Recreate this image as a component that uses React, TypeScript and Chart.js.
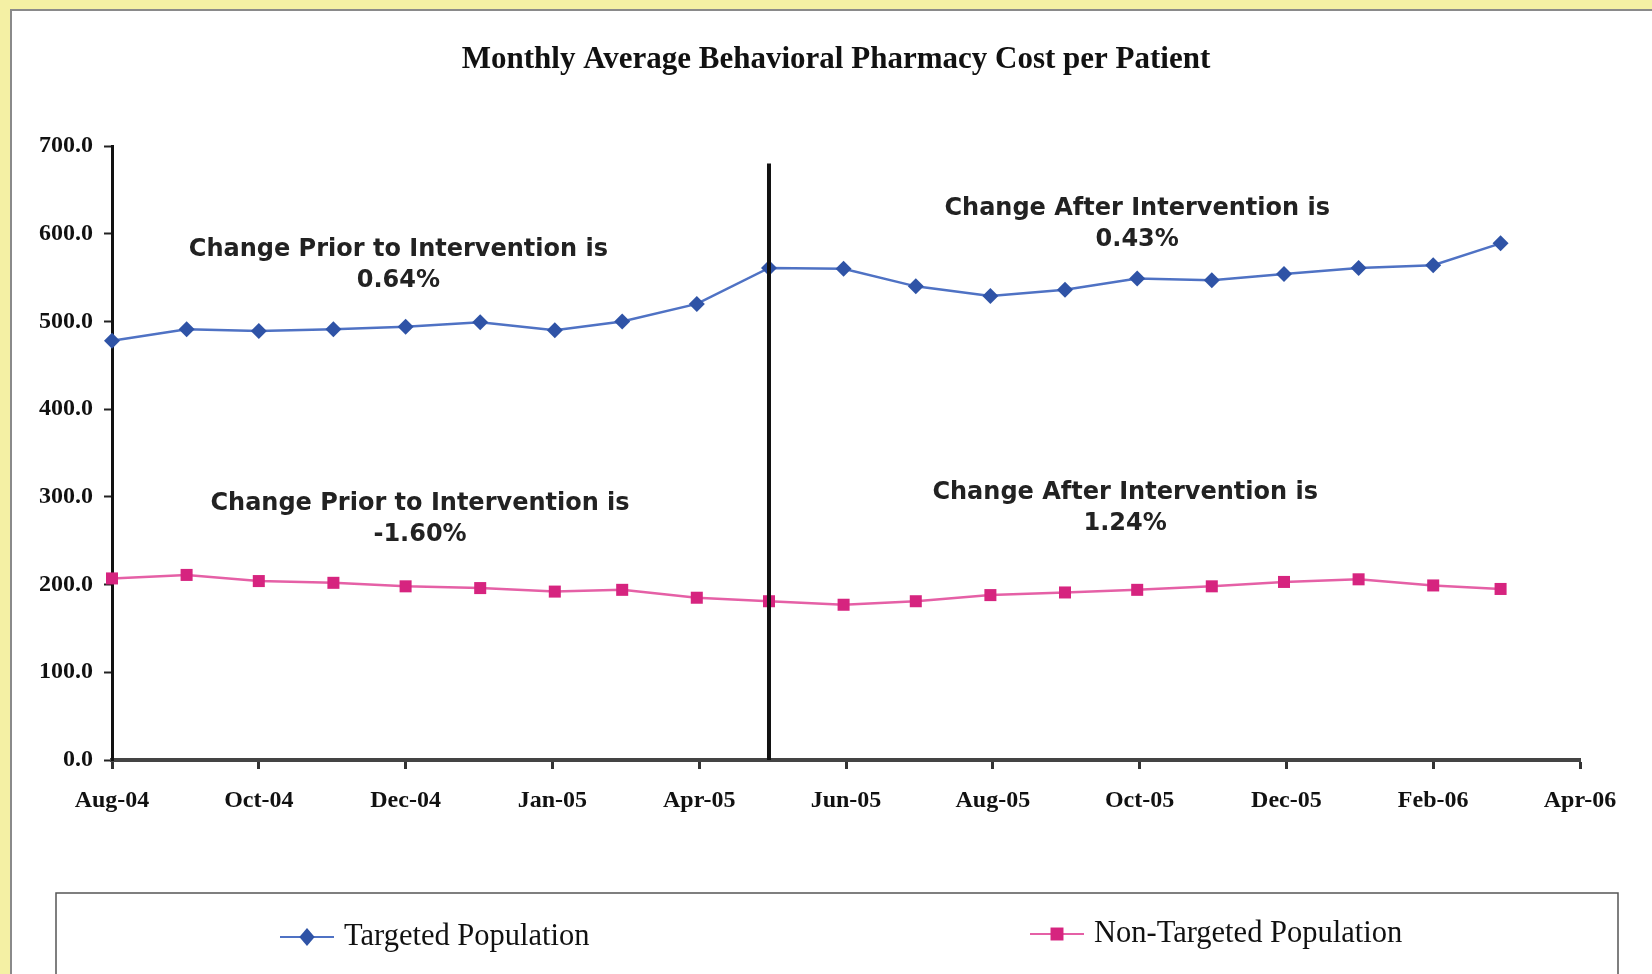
import React, { useEffect, useRef } from "react";
import { Chart, registerables } from "chart.js";

Chart.register(...registerables);

// ---- data ----
const axisStart = "2004-08-01";
const tickStepDays = 61;
const tickLabels = ["Aug-04", "Oct-04", "Dec-04", "Jan-05", "Apr-05", "Jun-05", "Aug-05", "Oct-05", "Dec-05", "Feb-06", "Apr-06"];
const yTicks = [0, 100, 200, 300, 400, 500, 600, 700];

const months = [
  "2004-08-01", "2004-09-01", "2004-10-01", "2004-11-01", "2004-12-01",
  "2005-01-01", "2005-02-01", "2005-03-01", "2005-04-01", "2005-05-01",
  "2005-06-01", "2005-07-01", "2005-08-01", "2005-09-01", "2005-10-01",
  "2005-11-01", "2005-12-01", "2006-01-01", "2006-02-01", "2006-03-01",
];
const targeted = [478, 491, 489, 491, 494, 499, 490, 500, 520, 561, 560, 540, 529, 536, 549, 547, 554, 561, 564, 589];
const nonTargeted = [207, 211, 204, 202, 198, 196, 192, 194, 185, 181, 177, 181, 188, 191, 194, 198, 203, 206, 199, 195];

const seriesNames = ["Targeted Population", "Non-Targeted Population"];
const titleText = "Monthly Average Behavioral Pharmacy Cost per Patient";

const interventionDate = "2005-05-01";
const interventionTop = 680;

const noteLines = [
  ["Change Prior to Intervention is", "0.64%"],
  ["Change After Intervention is", "0.43%"],
  ["Change Prior to Intervention is", "-1.60%"],
  ["Change After Intervention is", "1.24%"],
];
const noteDays = [119, 426, 128, 421];
const noteValues = [582, 628, 292, 305];

// ---- styles ----
const BLUE_LINE = "#4f72c4";
const BLUE_MARK = "#2f53a6";
const PINK_LINE = "#e560a6";
const PINK_MARK = "#d6247f";
const SERIF = "'Liberation Serif', 'Times New Roman', serif";
const SANS = "'DejaVu Sans', Verdana, sans-serif";

const dayOffset = (d: string) => (Date.parse(d) - Date.parse(axisStart)) / 86400000;

const drawMarker = (ctx: CanvasRenderingContext2D, kind: string, x: number, y: number, r: number, color: string) => {
  ctx.save();
  ctx.fillStyle = color;
  ctx.beginPath();
  if (kind === "diamond") {
    ctx.moveTo(x, y - r);
    ctx.lineTo(x + r * 0.85, y);
    ctx.lineTo(x, y + r);
    ctx.lineTo(x - r * 0.85, y);
    ctx.closePath();
  } else {
    const h = r * 0.72;
    ctx.rect(x - h, y - h, 2 * h, 2 * h);
  }
  ctx.fill();
  ctx.restore();
};

const decorPlugin = {
  id: "decor",
  beforeDraw(chart: any) {
    const { ctx, width, height } = chart;
    ctx.save();
    ctx.fillStyle = "#f4f0a4";
    ctx.fillRect(0, 0, width, height);
    ctx.fillStyle = "#ffffff";
    ctx.fillRect(11, 10, width - 11, height - 10);
    ctx.strokeStyle = "#8a8a8a";
    ctx.lineWidth = 2;
    ctx.beginPath();
    ctx.moveTo(11, height);
    ctx.lineTo(11, 10);
    ctx.lineTo(width, 10);
    ctx.stroke();
    ctx.restore();
  },
  afterDatasetsDraw(chart: any) {
    const { ctx } = chart;
    const xs = chart.scales.x;
    const ys = chart.scales.y;
    // intervention line
    const xi = xs.getPixelForValue(dayOffset(interventionDate));
    ctx.save();
    ctx.strokeStyle = "#111";
    ctx.lineWidth = 4;
    ctx.beginPath();
    ctx.moveTo(xi, ys.getPixelForValue(interventionTop));
    ctx.lineTo(xi, ys.getPixelForValue(0));
    ctx.stroke();
    ctx.restore();

    // notes
    ctx.save();
    ctx.fillStyle = "#222";
    ctx.font = `bold 24px ${SANS}`;
    ctx.textAlign = "center";
    ctx.textBaseline = "middle";
    noteLines.forEach((lines, i) => {
      const cx = xs.getPixelForValue(noteDays[i]);
      const cy = ys.getPixelForValue(noteValues[i]);
      lines.forEach((t, j) => ctx.fillText(t, cx, cy + j * 31));
    });
    ctx.restore();
  },
  afterDraw(chart: any) {
    const { ctx } = chart;
    ctx.save();
    // title
    ctx.fillStyle = "#111";
    ctx.font = `bold 31px ${SERIF}`;
    ctx.textAlign = "center";
    ctx.textBaseline = "middle";
    ctx.fillText(titleText, 836, 60);

    // legend box
    ctx.strokeStyle = "#555";
    ctx.lineWidth = 1.5;
    ctx.strokeRect(56, 893, 1562, 100);

    const items = [
      { name: seriesNames[0], line: BLUE_LINE, mark: BLUE_MARK, kind: "diamond", x0: 280, y: 937 },
      { name: seriesNames[1], line: PINK_LINE, mark: PINK_MARK, kind: "square", x0: 1030, y: 934 },
    ];
    ctx.font = `30.5px ${SERIF}`;
    ctx.textAlign = "left";
    items.forEach((it) => {
      ctx.strokeStyle = it.line;
      ctx.lineWidth = 2;
      ctx.beginPath();
      ctx.moveTo(it.x0, it.y);
      ctx.lineTo(it.x0 + 54, it.y);
      ctx.stroke();
      drawMarker(ctx, it.kind, it.x0 + 27, it.y, 9, it.mark);
      ctx.fillStyle = "#111";
      ctx.fillText(it.name, it.x0 + 64, it.y);
    });
    ctx.restore();
  },
};

export default function App() {
  const ref = useRef<HTMLCanvasElement | null>(null);

  useEffect(() => {
    document.body.style.margin = "0";
    const canvas = ref.current;
    if (!canvas) return;
    const xVals = months.map(dayOffset);
    const chart = new Chart(canvas, {
      type: "line",
      data: {
        datasets: [
          {
            label: seriesNames[0],
            data: xVals.map((x, i) => ({ x, y: targeted[i] })),
            borderColor: BLUE_LINE,
            backgroundColor: BLUE_MARK,
            borderWidth: 2.5,
            pointStyle: "rectRot",
            pointRadius: 8,
            pointBorderWidth: 0,
            pointBackgroundColor: BLUE_MARK,
            pointBorderColor: BLUE_MARK,
            tension: 0,
            clip: false,
          },
          {
            label: seriesNames[1],
            data: xVals.map((x, i) => ({ x, y: nonTargeted[i] })),
            borderColor: PINK_LINE,
            backgroundColor: PINK_MARK,
            borderWidth: 2.5,
            pointStyle: "rect",
            pointRadius: 8.5,
            pointBorderWidth: 0,
            pointBackgroundColor: PINK_MARK,
            pointBorderColor: PINK_MARK,
            tension: 0,
            clip: false,
          },
        ],
      },
      plugins: [decorPlugin],
      options: {
        responsive: false,
        animation: false,
        events: [],
        layout: { padding: { top: 146, right: 72, left: 0, bottom: 0 } },
        plugins: { legend: { display: false }, title: { display: false }, tooltip: { enabled: false } },
        scales: {
          x: {
            type: "linear",
            min: 0,
            max: tickStepDays * (tickLabels.length - 1),
            afterBuildTicks: (axis: any) => {
              axis.ticks = tickLabels.map((_, i) => ({ value: i * tickStepDays }));
            },
            afterFit: (s: any) => {
              s.height = 214;
            },
            ticks: {
              autoSkip: false,
              maxRotation: 0,
              padding: 17,
              color: "#111",
              font: { family: SERIF, size: 24, weight: "bold" },
              callback: (v: any) => tickLabels[Math.round(Number(v) / tickStepDays)],
            },
            grid: { drawOnChartArea: false, drawTicks: true, tickLength: 9, tickColor: "#333", tickWidth: 3 },
            border: { color: "#444", width: 4 },
          },
          y: {
            min: 0,
            max: 700,
            afterBuildTicks: (axis: any) => {
              axis.ticks = yTicks.map((v) => ({ value: v }));
            },
            afterFit: (s: any) => {
              s.width = 112;
            },
            ticks: {
              padding: 11,
              color: "#111",
              font: { family: SERIF, size: 24, weight: "bold" },
              callback: (v: any) => Number(v).toFixed(1),
            },
            grid: { drawOnChartArea: false, drawTicks: true, tickLength: 8, tickColor: "#222", tickWidth: 2 },
            border: { color: "#111", width: 3 },
          },
        },
      },
    });
    return () => chart.destroy();
  }, []);

  return (
    <div style={{ width: 1652, height: 974, position: "relative", background: "#f4f0a4" }}>
      <canvas ref={ref} width={1652} height={974} style={{ display: "block" }} />
    </div>
  );
}
